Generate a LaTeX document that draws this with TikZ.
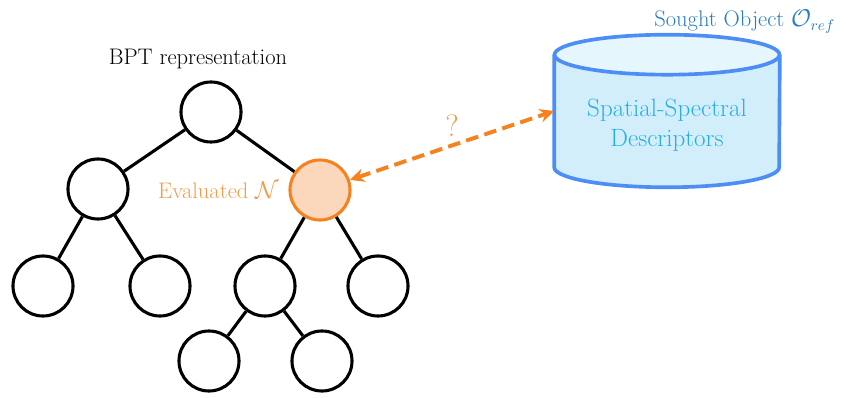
\documentclass[tikz,border=0pt]{standalone}
\usepackage{amsmath}
\usetikzlibrary{arrows.meta,positioning,backgrounds}
\definecolor{bptInk}{HTML}{000000}
\definecolor{bptOrange}{HTML}{F5821F}
\definecolor{bptPeach}{HTML}{FBD8BC}
\definecolor{bptLabel}{HTML}{F39A45}
\definecolor{dbBlue}{HTML}{4C8DF6}
\definecolor{dbFill}{HTML}{D2EEFB}
\definecolor{dbTop}{HTML}{E6F6FD}
\definecolor{dbText}{HTML}{27AEE3}
\definecolor{dbTitle}{HTML}{2A7DBF}
\tikzset{
  tnode/.style    ={circle,draw=bptInk,line width=2.2pt,fill=white,minimum size=15mm,inner sep=0pt},
  evalnode/.style ={tnode,draw=bptOrange,fill=bptPeach},
  branch/.style   ={bptInk,line width=2.2pt},
  query/.style    ={{Stealth[length=3.6mm,width=3.4mm]}-{Stealth[length=3.6mm,width=3.4mm]},
                    bptOrange,line width=2.8pt,dash pattern=on 9pt off 4.5pt},
  store/.style    ={dbBlue,line width=2.6pt},
  lbl/.style      ={font=\fontsize{16}{19}\selectfont},
  blbl/.style     ={font=\fontsize{17.8}{21.5}\selectfont},
}

\begin{document}
\begin{tikzpicture}[x=0.025cm,y=-0.025cm]
\useasboundingbox (0,0) rectangle (844,398);

%% tree
\node[tnode] (root) at (211,112) {};
\node[tnode] (l) at (98,189) {};
\node[evalnode] (n) at (320,190) {};
\node[tnode] (ll) at (43,286) {};
\node[tnode] (lr) at (160,286) {};
\node[tnode] (nl) at (265,286) {};
\node[tnode] (nr) at (378,286) {};
\node[tnode] (nll) at (209,361) {};
\node[tnode] (nlr) at (322,361) {};

\draw[branch] (root) -- (l);
\draw[branch] (root) -- (n);
\draw[branch] (l) -- (ll);
\draw[branch] (l) -- (lr);
\draw[branch] (n) -- (nl);
\draw[branch] (n) -- (nr);
\draw[branch] (nl) -- (nll);
\draw[branch] (nl) -- (nlr);

\node[lbl] (bpt) at (198,59) {BPT representation};
\node[lbl,text=bptLabel,left=1.2mm of n] (evl) {Evaluated $\mathcal{N}$};

%% sought object store
\node[minimum width=56.25mm,minimum height=28mm,inner sep=0pt] (obj) at (667,111) {};
\fill[dbFill] (obj.north west) -- (obj.south west) arc[start angle=180,end angle=0,x radius=112.5,y radius=20]
  -- (obj.north east) -- cycle;
\fill[dbTop] (obj.north) ellipse[x radius=112.5,y radius=20];
\draw[store] (obj.north west) -- (obj.south west) arc[start angle=180,end angle=0,x radius=112.5,y radius=20]
  -- (obj.north east);
\draw[store] (obj.north) ellipse[x radius=112.5,y radius=20];
\node[blbl,text=dbText,align=center] (desc) at ([yshift=-0.36cm]obj.center) {Spatial-Spectral\\Descriptors};
\node[lbl,text=dbTitle,anchor=base east] (title) at (840,27) {Sought Object $\mathcal{O}_{ref}$};

%% comparison
\draw[query] (n) -- (obj.west) node[text=bptLabel,font=\fontsize{22}{26}\selectfont,midway,above=0.5mm] {?};
\end{tikzpicture}
\end{document}
